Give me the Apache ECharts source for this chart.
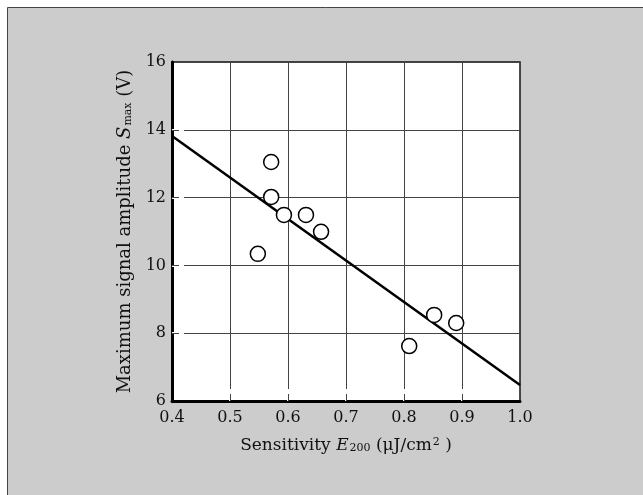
<!DOCTYPE html>
<html>
<head>
<meta charset="utf-8">
<script src="https://cdn.jsdelivr.net/npm/echarts@6/dist/echarts.min.js"></script>
<style>html,body{margin:0;padding:0;background:#fff;}#c{width:643px;height:495px;}</style>
</head>
<body>
<div id="c"></div>
<script>
const sensitivity = [0.571, 0.571, 0.593, 0.631, 0.657, 0.548, 0.809, 0.852, 0.890];
const amplitude   = [13.05, 12.02, 11.49, 11.49, 10.99, 10.34, 7.62, 8.54, 8.30];
const fitX = [0.4, 1.0];
const fitY = [13.82, 6.47];
const xTicks = [0.4, 0.5, 0.6, 0.7, 0.8, 0.9, 1.0];
const yTicks = [6, 8, 10, 12, 14, 16];

const FONT = 'DejaVu Serif';
const chart = echarts.init(document.getElementById('c'), null, {renderer: 'canvas'});
const base = {fontFamily: FONT, color: '#111', fontSize: 16};
function makeRich(sz) {
  return {
    n: {fontFamily: FONT, fontSize: sz, color: '#111'},
    i: {fontFamily: FONT, fontSize: sz, fontStyle: 'italic', color: '#111'},
    sub: {fontFamily: FONT, fontSize: 11, color: '#111', verticalAlign: 'bottom', padding: [5, 0, 0, 1]},
    sup: {fontFamily: FONT, fontSize: 11, color: '#111', verticalAlign: 'top', padding: [0, 0, 5, 1]}
  };
}
const innerX = xTicks.slice(1, -1);
const innerY = yTicks.slice(1, -1);
function xAxisCommon(extra) {
  return Object.assign({
    type: 'value', min: xTicks[0], max: xTicks[xTicks.length - 1], interval: 0.1,
    position: 'bottom'
  }, extra);
}
function yAxisCommon(extra) {
  return Object.assign({
    type: 'value', min: yTicks[0], max: yTicks[yTicks.length - 1], interval: 2,
    position: 'left'
  }, extra);
}
const option = {
  animation: false,
  backgroundColor: '#ffffff',
  graphic: [{
    type: 'rect', z: -10, silent: true,
    shape: {x: 7.5, y: 7.5, width: 700, height: 600},
    style: {fill: '#cccccc', stroke: '#444', lineWidth: 1}
  }],
  grid: {left: 172, top: 62, width: 348, height: 339, show: true,
         backgroundColor: '#ffffff', borderColor: '#111', borderWidth: 1.5},
  xAxis: [
    xAxisCommon({
      name: '{n|Sensitivity }{i|E}{sub|200}{n| (μJ/cm}{sup|2}{n| )}',
      nameLocation: 'middle', nameGap: 36,
      nameTextStyle: Object.assign({}, base, {rich: makeRich(17)}),
      axisLine: {show: true, onZero: false, lineStyle: {color: '#000', width: 3}},
      axisTick: {show: false},
      axisLabel: Object.assign({}, base, {margin: 9, formatter: v => v.toFixed(1)}),
      splitLine: {show: true, lineStyle: {color: '#444', width: 1}}
    }),
    xAxisCommon({
      axisLine: {show: false}, axisLabel: {show: false}, splitLine: {show: false},
      axisTick: {show: true, inside: true, length: 12, customValues: innerX, lineStyle: {color: '#fff', width: 2}}
    }),
    xAxisCommon({
      axisLine: {show: false}, axisLabel: {show: false}, splitLine: {show: false},
      axisTick: {show: true, inside: true, length: 7, customValues: innerX, lineStyle: {color: '#444', width: 1}}
    })
  ],
  yAxis: [
    yAxisCommon({
      name: '{n|Maximum signal amplitude }{i|S}{sub|max}{n| (V)}',
      nameLocation: 'middle', nameGap: 38,
      nameTextStyle: Object.assign({}, base, {rich: makeRich(18)}),
      axisLine: {show: true, onZero: false, lineStyle: {color: '#000', width: 3}},
      axisTick: {show: false},
      axisLabel: Object.assign({}, base, {margin: 6}),
      splitLine: {show: true, lineStyle: {color: '#444', width: 1}}
    }),
    yAxisCommon({
      axisLine: {show: false}, axisLabel: {show: false}, splitLine: {show: false},
      axisTick: {show: true, inside: true, length: 12, customValues: innerY, lineStyle: {color: '#fff', width: 2}}
    }),
    yAxisCommon({
      axisLine: {show: false}, axisLabel: {show: false}, splitLine: {show: false},
      axisTick: {show: true, inside: true, length: 7, customValues: innerY, lineStyle: {color: '#444', width: 1}}
    })
  ],
  series: [
    {
      type: 'line', xAxisIndex: 0, yAxisIndex: 0, z: 3,
      data: fitX.map((x, k) => [x, fitY[k]]),
      symbol: 'none', lineStyle: {color: '#000', width: 2.5}
    },
    {
      type: 'scatter', xAxisIndex: 0, yAxisIndex: 0, z: 4,
      data: sensitivity.map((x, k) => [x, amplitude[k]]),
      symbol: 'circle', symbolSize: 15,
      itemStyle: {color: '#fff', borderColor: '#000', borderWidth: 1.5, opacity: 1}
    }
  ]
};
chart.setOption(option);
</script>
</body>
</html>
